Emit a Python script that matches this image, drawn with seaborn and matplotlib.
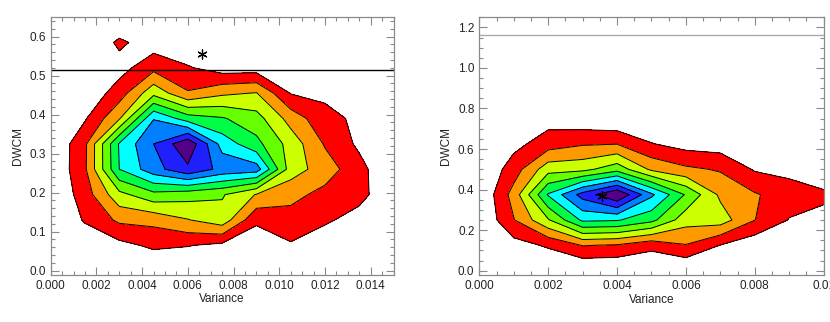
import numpy as np
import matplotlib
matplotlib.use("Agg")
import matplotlib.pyplot as plt
import seaborn as sns
from matplotlib.ticker import MultipleLocator

# ---------------- data ----------------
# Left panel: density grid (rows = DWCM from 0 to 0.65, cols = Variance from 0 to 0.015)
left_x = np.linspace(0.0, 0.015, 11)
left_y = np.linspace(0.0, 0.65, 11)
left_z = [
    [0, 0,   0,    0,    0,    0,   0,    0,    0,   0,    0],
    [0, 0.3, 0.7,  1.2,  1.05, 0.75, 0.3, 0.9,  0.2, 0,    0],
    [0, 1.1, 2.2,  2.3,  2.95, 3.6, 1.2,  1.6,  1.2, 0.5,  0],
    [0, 1.5, 3.7,  4.7,  4.4,  4.1, 2.94, 2.3,  1.7, 1.4,  0],
    [0, 1.85, 6.0, 7.6,  8.8,  7.7, 7.5,  3.5,  2.5, 1.35, 0],
    [0, 1.8, 6.1,  8.0,  9.8,  6.6, 5.3,  3.6,  1.9, 0.8,  0],
    [0, 0.9, 2.9,  6.95, 5.5,  5.1, 4.4,  2.6,  1.3, 0.8,  0],
    [0, 0.2, 1.5,  3.7,  2.1,  2.8, 3.05, 0.95, 0.8, 0.2,  0],
    [0, 0,   0.6,  1.7,  1.1,  0.5, 0.5,  0.2,  0.1, 0,    0],
    [0, 0,   1.2,  0.48, 0.1,  0,   0,    0,    0,   0,    0],
    [0, 0,   0,    0,    0,    0,   0,    0,    0,   0,    0],
]
left_hline = 0.514
left_star = (0.0066, 0.556)

# Right panel: density grid (rows = DWCM from 0 to 1.25, cols = Variance from 0 to 0.01)
right_x = np.linspace(0.0, 0.010, 11)
right_y = np.linspace(0.0, 1.25, 11)
right_z = [
    [0, 0,   0,    0,    0,    0,    0,    0,    0,    0,    0],
    [0, 0.6, 1.13, 2.05, 1.9,  1.3,  1.95, 0.97, 0.3,  0.3,  0.2],
    [0, 1.95, 3.9, 6.2,  6.1,  5.3,  3.4,  3.5,  2.02, 0.95, 0.85],
    [0, 2.4, 6.1,  8.4,  10.0, 7.2,  4.9,  2.8,  2.1,  1.5,  1.1],
    [0, 1.5, 3.6,  3.7,  4.6,  2.8,  2.2,  1.9,  0.9,  0.7,  0.6],
    [0, 0.7, 1.5,  1.9,  1.98, 1.05, 0.6,  0.5,  0.3,  0.2,  0.1],
    [0, 0,   0.6,  0.3,  0.1,  0,    0,    0,    0,    0,    0],
    [0, 0,   0,    0,    0,    0,    0,    0,    0,    0,    0],
    [0, 0,   0,    0,    0,    0,    0,    0,    0,    0,    0],
    [0, 0,   0,    0,    0,    0,    0,    0,    0,    0,    0],
    [0, 0,   0,    0,    0,    0,    0,    0,    0,    0,    0],
]
right_hline = 1.162
right_star = (0.00355, 0.37)

levels = [1, 2, 3, 4, 5, 6, 7, 8, 9]
fill_colors = ["#ff0000", "#ff9900", "#ccff00", "#66ff00", "#00ff44",
               "#00ffff", "#0080ff", "#2020ff", "#550088"]

# ---------------- styling ----------------
sns.set_theme(style="white")
plt.rcParams["font.family"] = ["Liberation Sans", "DejaVu Sans"]
plt.rcParams["font.size"] = 8.5

fig = plt.figure(figsize=(8.30, 3.22), dpi=100)
axL = fig.add_axes([0.0611, 0.146, 0.4131, 0.801])
axR = fig.add_axes([0.5775, 0.145, 0.4148, 0.802])

frame_col = "#8a8a8a"


def draw(ax, x, y, z, xlim, ylim, xmaj, xmin, ymaj, ymin, hline, hcol, star, xfmt, yfmt):
    X, Y = np.meshgrid(x, y)
    Z = np.array(z, dtype=float)
    ax.contourf(X, Y, Z, levels=levels + [1000], colors=fill_colors)
    ax.contour(X, Y, Z, levels=levels, colors="black", linewidths=0.7)
    ax.axhline(hline, color=hcol, lw=1.0)
    sns.scatterplot(x=[star[0]], y=[star[1]], ax=ax, marker=(6, 2, 0), s=45,
                    color="black", linewidth=0.9, legend=False)
    ax.set_xlim(*xlim)
    ax.set_ylim(*ylim)
    ax.xaxis.set_major_locator(MultipleLocator(xmaj))
    ax.xaxis.set_minor_locator(MultipleLocator(xmin))
    ax.yaxis.set_major_locator(MultipleLocator(ymaj))
    ax.yaxis.set_minor_locator(MultipleLocator(ymin))
    ax.xaxis.set_major_formatter(plt.FuncFormatter(lambda v, p: xfmt.format(v)))
    ax.yaxis.set_major_formatter(plt.FuncFormatter(lambda v, p: yfmt.format(v)))
    ax.tick_params(which="both", direction="in", top=True, right=True,
                   bottom=True, left=True, color=frame_col, labelsize=8.5,
                   labelcolor="#222222")
    ax.tick_params(which="major", length=6, width=0.8)
    ax.tick_params(which="minor", length=3, width=0.8)
    for s in ax.spines.values():
        s.set_color(frame_col)
        s.set_linewidth(0.9)
    ax.set_xlabel("Variance", fontsize=8.5, color="#222222", labelpad=1)
    ax.set_ylabel("DWCM", fontsize=8.5, color="#222222", labelpad=4)


draw(axL, left_x, left_y, left_z, (0, 0.015), (-0.011, 0.65), 0.002, 0.0005,
     0.1, 0.02, left_hline, "black", left_star, "{:.3f}", "{:.1f}")
draw(axR, right_x, right_y, right_z, (0, 0.010), (-0.023, 1.251), 0.002, 0.0005,
     0.2, 0.05, right_hline, "#aaaaaa", right_star, "{:.3f}", "{:.1f}")
axR.set_xticks([0, 0.002, 0.004, 0.006, 0.008, 0.010])
axR.set_xticklabels(["0.000", "0.002", "0.004", "0.006", "0.008", "0.01"])

fig.savefig("out.png", dpi=100, facecolor="white")
